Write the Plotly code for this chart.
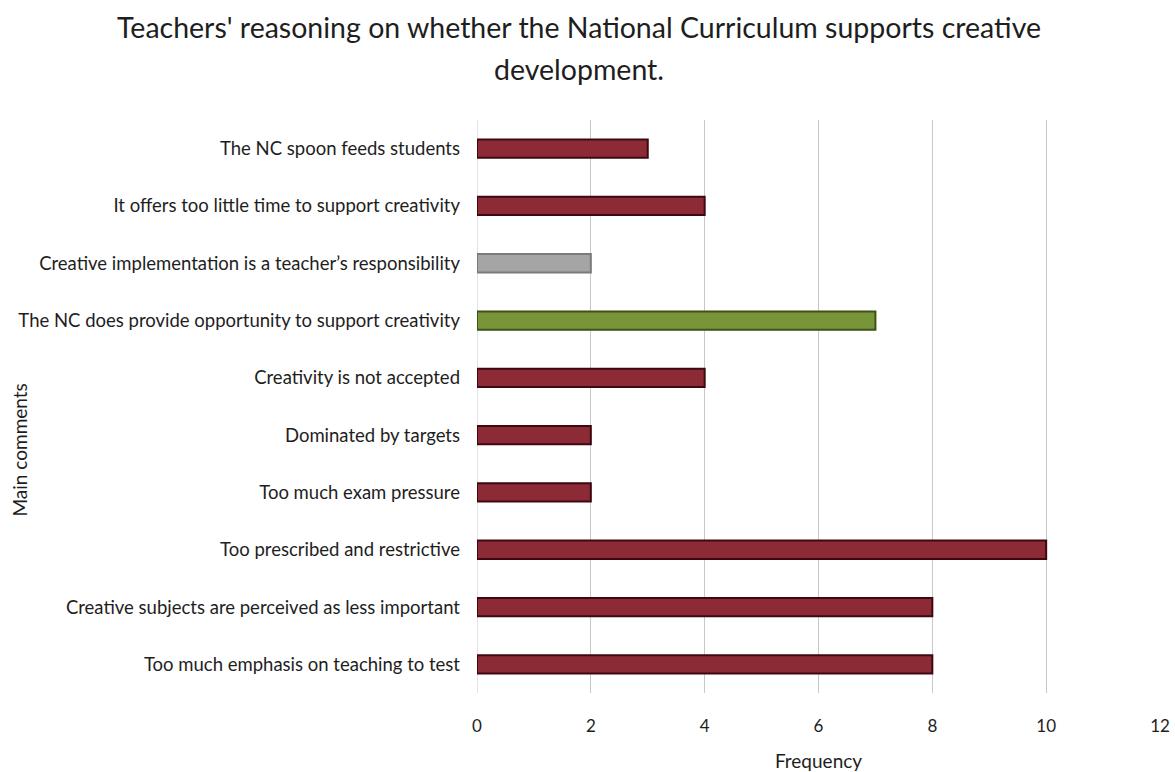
import plotly.graph_objects as go

# Comment categories, listed bottom to top
comments = [
    "Too much emphasis on teaching to test",
    "Creative subjects are perceived as less important",
    "Too prescribed and restrictive",
    "Too much exam pressure",
    "Dominated by targets",
    "Creativity is not accepted",
    "The NC does provide opportunity to support creativity",
    "Creative implementation is a teacher\u2019s responsibility",
    "It offers too little time to support creativity",
    "The NC spoon feeds students",
]
frequency = [8, 8, 10, 2, 2, 4, 7, 2, 4, 3]
# stance of each comment: negative / positive / neutral
stance = ["neg", "neg", "neg", "neg", "neg", "neg", "pos", "neu", "neg", "neg"]

x_ticks = [0, 2, 4, 6, 8, 10, 12]

title_lines = [
    "Teachers' reasoning on whether the National Curriculum supports creative",
    "development.",
]

fill = {"neg": "#8c2a36", "pos": "#789539", "neu": "#a5a5a5"}
edge = {"neg": "#3f0810", "pos": "#3e5119", "neu": "#7a7a7a"}

font_family = "Lato, 'Open Sans', sans-serif"
text_color = "#1e1e1e"

ML, MR, MT, MB = 477, 15, 120, 79
W, H = 1175, 772

fig = go.Figure(
    go.Bar(
        x=frequency,
        y=comments,
        orientation="h",
        width=0.32,
        marker=dict(
            color=[fill[s] for s in stance],
            line=dict(color=[edge[s] for s in stance], width=2),
        ),
        hoverinfo="x+y",
    )
)

fig.update_layout(
    width=W,
    height=H,
    paper_bgcolor="white",
    plot_bgcolor="white",
    margin=dict(l=ML, r=MR, t=MT, b=MB, autoexpand=False),
    showlegend=False,
    font=dict(family=font_family, color=text_color, size=18),
)

# two-line chart title, each line placed on its own
for line_text, center_y in zip(title_lines, [27, 69]):
    fig.add_annotation(
        text=line_text,
        xref="paper", yref="paper",
        x=(579 - ML) / (W - ML - MR), xanchor="center",
        y=1, yshift=MT - center_y, yanchor="middle",
        showarrow=False,
        font=dict(size=28.5, family=font_family, color=text_color),
    )

# vertical axis title at the far left
fig.add_annotation(
    text="Main comments",
    xref="paper", yref="paper",
    x=0, xshift=-(ML - 19), xanchor="center",
    y=0.5, yshift=-44, yanchor="middle",
    textangle=-90,
    showarrow=False,
    font=dict(size=19, family=font_family, color=text_color),
)

fig.update_xaxes(
    range=[0, 12],
    tickvals=x_ticks,
    showgrid=True,
    gridcolor="#c8c8c8",
    gridwidth=1,
    zeroline=False,
    showline=False,
    ticks="",
    automargin=False,
    ticklabelstandoff=21,
    tickfont=dict(size=17),
    title=dict(text="Frequency", font=dict(size=19), standoff=22),
)

fig.update_yaxes(
    categoryorder="array",
    categoryarray=comments,
    range=[-0.5, 9.5],
    showgrid=False,
    zeroline=False,
    showline=False,
    ticks="",
    automargin=False,
    ticklabelstandoff=16,
    tickfont=dict(size=18.5),
)

# gridline at x = 0 drawn as the left edge of the plot area
fig.add_shape(type="line", xref="x", yref="paper", x0=0, x1=0, y0=0, y1=1,
              line=dict(color="#c8c8c8", width=1), layer="below")

fig.write_html("out.html")
